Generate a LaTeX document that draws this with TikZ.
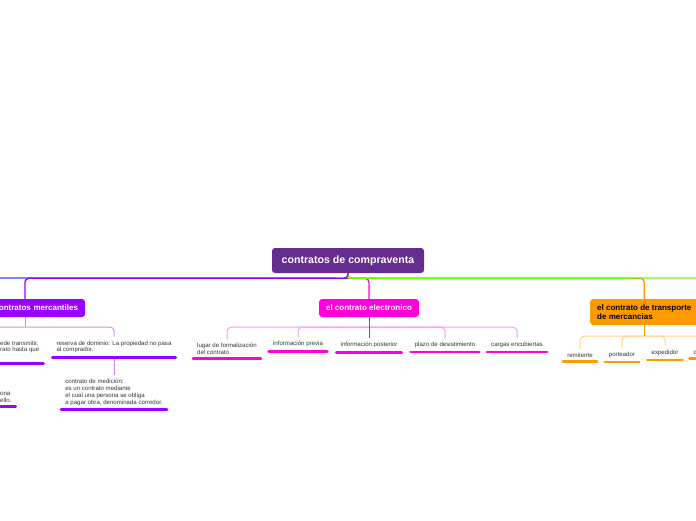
\documentclass[tikz,border=0pt]{standalone}
\usepackage{fontspec}
\setmainfont{Liberation Sans}
\usetikzlibrary{positioning,calc}
\definecolor{rootpurple}{RGB}{102,45,145}
\definecolor{mercpurple}{RGB}{153,0,255}
\definecolor{mercsoft}{RGB}{204,140,255}
\definecolor{elecpink}{RGB}{255,0,220}
\definecolor{elecsoft}{RGB}{255,150,240}
\definecolor{transorange}{RGB}{255,153,0}
\definecolor{transsoft}{RGB}{255,210,140}
\definecolor{limegreen}{RGB}{102,255,0}
\definecolor{edgeblue}{RGB}{51,68,255}
\definecolor{leafgray}{RGB}{51,51,51}

\begin{document}
\begin{tikzpicture}[
    x=1pt, y=-1pt,
    every node/.style={font=\fontsize{6.1}{6.8}\selectfont, text=leafgray},
    topic/.style={rounded corners=3pt, inner xsep=7pt, inner ysep=0pt, minimum height=18pt, align=left, text=white, font=\fontsize{8}{9}\selectfont\bfseries},
    leaf/.style={inner xsep=4pt, inner ysep=4pt, align=left},
    link/.style={line width=1pt, rounded corners=4pt},
    mainlink/.style={line width=1.4pt, rounded corners=4pt},
    uline/.style={line width=2.8pt, line cap=round},
]
\useasboundingbox (0,0) rectangle (696,520);
\clip (0,0) rectangle (696,520);

% central topic
\node[topic, fill=rootpurple, minimum width=152pt, minimum height=25pt, font=\fontsize{10.6}{12}\selectfont\bfseries] (root) at (348,260.5) {contratos de compraventa};

% main branches
\node[topic, fill=mercpurple, minimum width=120pt, text width=106pt, align=right] (merc) at (25,308) {contratos mercantiles};
\node[topic, fill=elecpink] (elec) at (369,308) {el contrato electronico};
\node[topic, fill=transorange, anchor=west, minimum height=26pt, text=black] (trans) at (590,312) {el contrato de transporte\\de mercancias};

\coordinate (westend) at (-20,278);
\coordinate (eastend) at (710,278);
\coordinate (mercwest) at (-20,327);
\coordinate (transend) at (710,336);

% leaves: contratos mercantiles
\node[leaf, anchor=north west] (trx) at (-4,336.5) {ede transmitir,\\rato hasta que};
\node[leaf, anchor=north] (res) at (114,336.5) {reserva de dominio: La propiedad no pasa\\al comprador.};
\node[leaf, anchor=north] (med) at (114,375) {contrato de medición:\\es un contrato mediante\\el cual una persona se obliga\\a pagar obra, denominada corredor.};
\node[leaf, anchor=north west] (ona) at (-4,388) {ona\\ello.};

% leaves: el contrato electronico
\node[leaf, anchor=north] (lug) at (227,339) {lugar de formalización\\del contrato.};
\node[leaf, anchor=north] (prev) at (298,337) {información previa};
\node[leaf, anchor=north] (post) at (369,338) {información posterior};
\node[leaf, anchor=north] (plazo) at (445,338) {plazo de desistimiento};
\node[leaf, anchor=north] (cargas) at (517,338) {cargas encubiertas};

% leaves: transporte
\node[leaf, anchor=north] (remit) at (580,349) {remitente};
\node[leaf, anchor=north] (port) at (622,348) {porteador};
\node[leaf, anchor=north] (exped) at (665,346) {expedidor};
\node[leaf, anchor=north west] (dest) at (689.5,346) {d};

% connectors from the central topic
\draw[mainlink, edgeblue] (root.south) ++(0,5) -- (westend);
\draw[mainlink, elecpink] (root.south) ++(0,5) -| (elec.north);
\draw[mainlink, transorange] (root.south) ++(0,5) -| (trans.north);
\draw[mainlink, limegreen] (root.south) -- ++(0,5) -- (eastend);
\draw[mainlink, mercpurple] (root.south) -- ++(0,5) -| (merc.north);

% contratos mercantiles
\draw[link, mercsoft] (merc.south) -- ++(0,10);
\draw[link, mercsoft] (mercwest) -| (res.north);
\draw[link, mercsoft] (res.south) -- (med.north);

% el contrato electronico
\coordinate (elecfork) at ($(elec.south)+(0,10)$);
\draw[link, elecsoft] (elecfork) -| (lug.north);
\draw[link, elecsoft] (elecfork) -| (prev.north);
\draw[link, elecsoft] (elecfork) -| (plazo.north);
\draw[link, elecsoft] (elecfork) -| (cargas.north);
\draw[link, elecpink] (elec.south) -- (post.north);

% transporte
\coordinate (transfork) at ($(trans.south)+(0,11)$);
\draw[link, transsoft] (transfork) -| (remit.north);
\draw[link, transsoft] (transfork) -| (port.north);
\draw[link, transsoft] (transfork) -| (exped.north);
\draw[link, transsoft] (transfork) -- (transend);
\draw[link, transorange] (trans.south) -- (transfork);

% underlines
\foreach \n in {res,med,ona}
  \draw[uline, mercpurple] (\n.south west) -- (\n.south east);
\draw[uline, mercpurple] ([yshift=-6pt]trx.south west) -- ([yshift=-6pt]trx.south east);
\foreach \n in {lug,prev,post,plazo,cargas}
  \draw[uline, elecpink] (\n.south west) -- (\n.south east);
\foreach \n in {remit,port,exped,dest}
  \draw[uline, transorange] (\n.south west) -- (\n.south east);
\end{tikzpicture}
\end{document}
